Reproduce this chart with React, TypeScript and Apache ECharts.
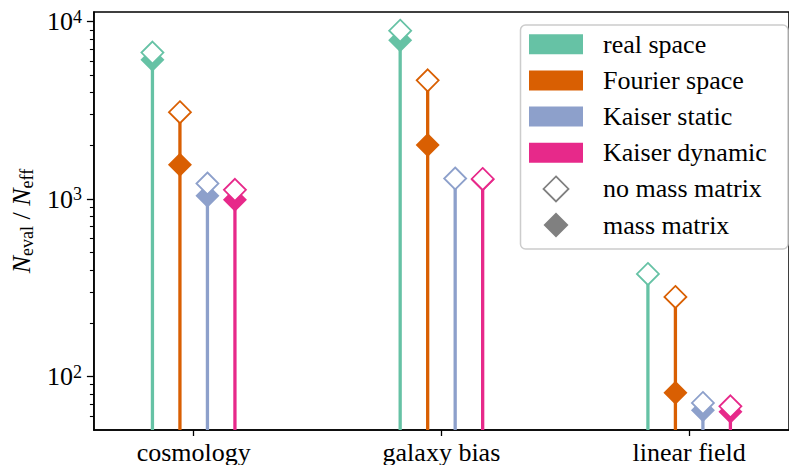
import React, { useEffect, useRef } from 'react';
import * as echarts from 'echarts';

const categories = ['cosmology', 'galaxy bias', 'linear field'];
const methods = ['real space', 'Fourier space', 'Kaiser static', 'Kaiser dynamic'];
const methodColors = ['#66c2a5', '#d95f02', '#8da0cb', '#e7298a'];
const markerLabels = ['no mass matrix', 'mass matrix'];

// N_eval / N_eff per category (cosmology, galaxy bias, linear field)
const realSpaceNoMass = [6700, 8900, 379];
const realSpaceMass = [6100, 7850, null];
const fourierNoMass = [3090, 4670, 281];
const fourierMass = [1560, 2020, 81];
const kaiserStaticNoMass = [1225, 1307, 71];
const kaiserStaticMass = [1044, null, 64.7];
const kaiserDynamicNoMass = [1128, 1300, 68];
const kaiserDynamicMass = [991, 1290, 63.4];

const yMajorTicks = [100, 1000, 10000];
const yMinorTicks = [60, 70, 80, 90, 200, 300, 400, 500, 600, 700, 800, 900, 2000, 3000, 4000, 5000, 6000, 7000, 8000, 9000];

const noMassSets = [realSpaceNoMass, fourierNoMass, kaiserStaticNoMass, kaiserDynamicNoMass];
const massSets = [realSpaceMass, fourierMass, kaiserStaticMass, kaiserDynamicMass];

const FONT = 'Liberation Serif';
const FS = 26;
const STEP = 0.111;

const serifRich = { t: { fontSize: FS, fontFamily: FONT, color: '#000', fill: '#000' } };

export default function App() {
  const ref = useRef<HTMLDivElement>(null);
  useEffect(() => {
    if (!ref.current) return;
    const chart = echarts.init(ref.current, null, { renderer: 'svg' });
    const xOf = (i: number, j: number) => j + (i - 1.5) * STEP;

    const stemSeries = methods.map((name, i) => ({
      name,
      type: 'custom',
      z: 2,
      data: categories
        .map((_, j) => {
          const vals = [noMassSets[i][j], massSets[i][j]].filter((v) => v != null) as number[];
          return vals.length ? [xOf(i, j), Math.max(...vals)] : null;
        })
        .filter((d) => d != null),
      renderItem: (params: any, api: any) => {
        const p = api.coord([api.value(0), api.value(1)]);
        const cs = params.coordSys;
        return {
          type: 'line',
          shape: { x1: p[0], y1: cs.y + cs.height, x2: p[0], y2: p[1] },
          style: { stroke: methodColors[i], lineWidth: 3.3 },
        };
      },
    }));

    const massData: any[] = [];
    const noMassData: any[] = [];
    methods.forEach((_, i) => {
      categories.forEach((_, j) => {
        const m = massSets[i][j];
        if (m != null) massData.push({ value: [xOf(i, j), m], itemStyle: { color: methodColors[i], opacity: 1 } });
        const n = noMassSets[i][j];
        if (n != null)
          noMassData.push({
            value: [xOf(i, j), n],
            itemStyle: { color: '#ffffff', borderColor: methodColors[i], borderWidth: 1.8, opacity: 1 },
          });
      });
    });

    const legendTop = 44.3;
    const legendPitch = 36.15;
    const legendText = (name: string, cy: number) => ({
      type: 'text',
      x: 603,
      y: cy,
      style: {
        text: `{t|${name}}`,
        rich: { t: { fontSize: FS, fontFamily: FONT, fill: '#000' } },
        verticalAlign: 'middle',
        align: 'left',
      },
    });
    const legendEls: any[] = [
      {
        type: 'rect',
        shape: { x: 520.5, y: 25, width: 267.5, height: 224, r: 5 },
        style: { fill: 'rgba(255,255,255,0.85)', stroke: '#cccccc', lineWidth: 1.5 },
      },
    ];
    methods.forEach((name, i) => {
      const cy = legendTop + legendPitch * i;
      legendEls.push({
        type: 'rect',
        shape: { x: 529, y: cy - 10, width: 54, height: 20 },
        style: { fill: methodColors[i] },
      });
      legendEls.push(legendText(name, cy));
    });
    markerLabels.forEach((name, k) => {
      const cy = legendTop + legendPitch * (4 + k);
      const h = 12.5;
      legendEls.push({
        type: 'polygon',
        shape: { points: [[556, cy - h], [556 + h, cy], [556, cy + h], [556 - h, cy]] },
        style:
          k === 0
            ? { fill: '#ffffff', stroke: '#808080', lineWidth: 1.8 }
            : { fill: '#808080' },
      });
      legendEls.push(legendText(name, cy));
    });

    const option: any = {
      animation: false,
      backgroundColor: '#ffffff',
      grid: {
        left: 90,
        top: 12,
        width: 708.5,
        height: 419,
        show: true,
        borderColor: '#000',
        borderWidth: 1.5,
        backgroundColor: 'transparent',
      },
      xAxis: {
        type: 'value',
        min: -0.4028,
        max: 2.403,
        splitLine: { show: false },
        axisLine: { show: true, onZero: false, lineStyle: { color: '#000', width: 1.5 } },
        axisTick: { show: true, customValues: [0, 1, 2], length: 6, lineStyle: { color: '#000', width: 1.3 } },
        axisLabel: {
          customValues: [0, 1, 2],
          formatter: (v: number) => `{t|${categories[Math.round(v)] ?? ''}}`,
          rich: serifRich,
          margin: 9,
        },
      },
      yAxis: [
        {
          type: 'log',
          logBase: 10,
          min: 50,
          max: 11340,
          splitLine: { show: false },
          axisLine: { show: true, onZero: false, lineStyle: { color: '#000', width: 1.5 } },
          axisTick: { show: true, customValues: yMajorTicks, length: 7, lineStyle: { color: '#000', width: 1.3 } },
          axisLabel: {
            customValues: yMajorTicks,
            formatter: (v: number) => `{b|10}{p|${Math.round(Math.log10(v))}}`,
            margin: 12,
            rich: {
              b: { fontSize: FS, fontFamily: FONT, color: '#000', lineHeight: 28 },
              p: { fontSize: 18, fontFamily: FONT, color: '#000', lineHeight: 18, verticalAlign: 'top' },
            },
          },
          name: '{i|N}{s|eval}{r| / }{i|N}{s|eff}',
          nameLocation: 'middle',
          nameRotate: 90,
          nameGap: 52,
          nameTextStyle: {
            rich: {
              i: { fontSize: FS, fontFamily: FONT, fontStyle: 'italic', color: '#000', lineHeight: 30 },
              s: { fontSize: 18, fontFamily: FONT, color: '#000', lineHeight: 18, verticalAlign: 'bottom' },
              r: { fontSize: FS, fontFamily: FONT, color: '#000', lineHeight: 30 },
            },
          },
        },
        {
          type: 'log',
          logBase: 10,
          min: 50,
          max: 11340,
          position: 'left',
          splitLine: { show: false },
          axisLine: { show: false, onZero: false },
          axisLabel: { show: false },
          axisTick: { show: true, customValues: yMinorTicks, length: 4, lineStyle: { color: '#000', width: 1.1 } },
        },
      ],
      series: [
        ...stemSeries,
        {
          name: markerLabels[1],
          type: 'scatter',
          z: 3,
          symbol: 'diamond',
          symbolSize: 24,
          itemStyle: { opacity: 1 },
          data: massData,
        },
        {
          name: markerLabels[0],
          type: 'scatter',
          z: 4,
          symbol: 'diamond',
          symbolSize: 22,
          itemStyle: { opacity: 1 },
          data: noMassData,
        },
      ],
      graphic: { elements: [{ type: 'group', z: 100, children: legendEls }] },
    };
    chart.setOption(option);
    return () => chart.dispose();
  }, []);
  return <div ref={ref} style={{ position: 'fixed', left: 0, top: 0, width: 789, height: 465 }} />;
}
